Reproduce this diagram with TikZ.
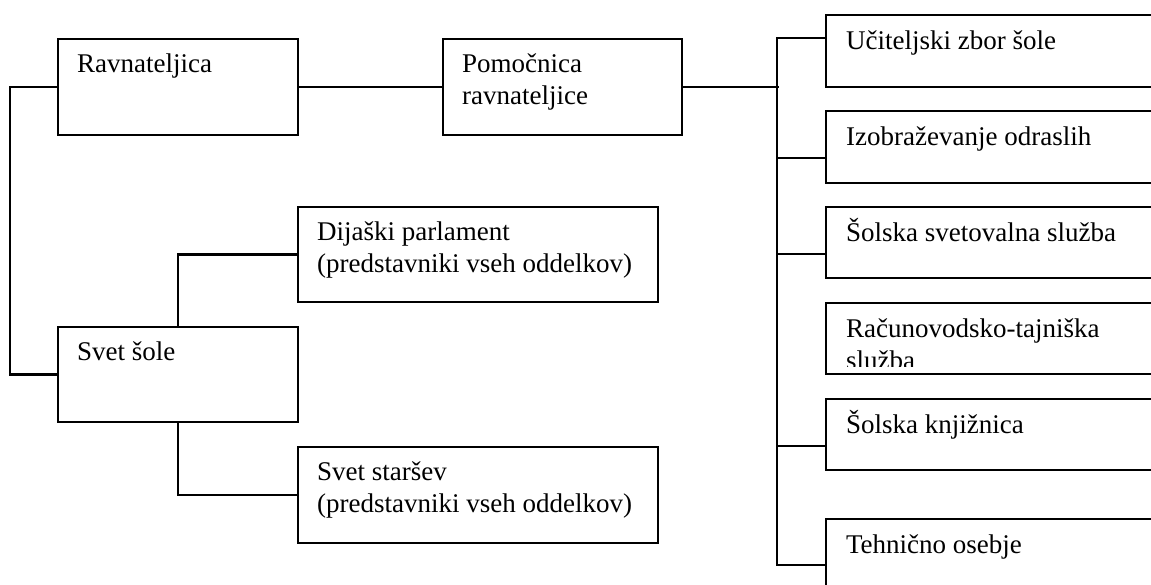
\documentclass[tikz,border=0pt]{standalone}
\usepackage{fontspec}
\setmainfont{Liberation Serif}
\usetikzlibrary{calc}
\newcommand\twolines[2]{\vtop{\hbox{#1}\hbox{#2}}}
\begin{document}
\begin{tikzpicture}[x=1pt,y=-1pt,
  box/.style={draw,line width=2.2pt,rectangle,inner sep=0pt},
  lbl/.style={anchor=base west,inner sep=0pt,font=\fontsize{27}{31.5}\selectfont},
  conn/.style={line width=2.2pt}]
\useasboundingbox (0,0) rectangle (1151,584);
\clip (0,0) rectangle (1151,584);
% left side
\node[box,minimum width=240pt,minimum height=96pt] (rav) at (178,87) {};
\node[box,minimum width=239pt,minimum height=96pt] (pom) at (562.5,87) {};
\node[box,minimum width=240pt,minimum height=95pt] (svet) at (178,374.5) {};
\node[box,minimum width=360pt,minimum height=95pt] (dij) at (478,254.5) {};
\node[box,minimum width=360pt,minimum height=96pt] (sta) at (478,495) {};
% right side
\node[box,minimum width=354pt,minimum height=72pt] (uci) at (1003,51) {};
\node[box,minimum width=354pt,minimum height=72pt] (izo) at (1003,147) {};
\node[box,minimum width=354pt,minimum height=71pt] (sve) at (1003,242.5) {};
\node[box,minimum width=354pt,minimum height=71pt] (rac) at (1003,338.5) {};
\node[box,minimum width=354pt,minimum height=71pt] (knj) at (1003,434.5) {};
\node[box,minimum width=354pt,minimum height=96pt] (teh) at (1003,567) {};
% texts
\node[lbl] (trav) at ($(rav.north west)+(20,35)$) {Ravnateljica};
\node[lbl] (tpom) at ($(pom.north west)+(20,35)$) {\twolines{Pomočnica}{ravnateljice}};
\node[lbl] (tsvet) at ($(svet.north west)+(20,35)$) {Svet šole};
\node[lbl] (tdij) at ($(dij.north west)+(20,35)$) {\twolines{Dijaški parlament}{(predstavniki vseh oddelkov)}};
\node[lbl] (tsta) at ($(sta.north west)+(20,35)$) {\twolines{Svet staršev}{(predstavniki vseh oddelkov)}};
\node[lbl] (tuci) at ($(uci.north west)+(21,36)$) {Učiteljski zbor šole};
\node[lbl] (tizo) at ($(izo.north west)+(21,36)$) {Izobraževanje odraslih};
\node[lbl] (tsve) at ($(sve.north west)+(21,36)$) {Šolska svetovalna služba};
\begin{scope}
\clip ($(rac.north west)+(0,0)$) rectangle ($(rac.east)+(0,27.5)$);
\node[lbl] (trac) at ($(rac.north west)+(21,36)$) {\twolines{Računovodsko-tajniška}{služba}};
\end{scope}
\node[lbl] (tknj) at ($(knj.north west)+(21,36)$) {Šolska knjižnica};
\node[lbl] (tteh) at ($(teh.north west)+(21,36)$) {Tehnično osebje};
% connectors
\draw[conn] (rav.east) -- (pom.west);
\draw[conn] (pom.east) -- ++(96,0);
\coordinate (tU) at ($(uci.north west)+(0,24)$);
\coordinate (tT) at ($(teh.north west)+(0,47)$);
\draw[conn] (tU) -- ++(-48,0) coordinate (tUL) -- (tUL |- tT) -- (tT);
\draw[conn] ($(izo.north west)+(0,48)$) -- ++(-48,0);
\draw[conn] ($(sve.north west)+(0,48)$) -- ++(-48,0);
\draw[conn] ($(knj.north west)+(0,48)$) -- ++(-48,0);
\draw[conn] (rav.west) -- ++(-47,0) coordinate (lL) -- (lL |- svet.west) -- (svet.west);
\draw[conn] (svet.north) |- (dij.west);
\draw[conn] (svet.south) |- (sta.west);
\end{tikzpicture}
\end{document}
